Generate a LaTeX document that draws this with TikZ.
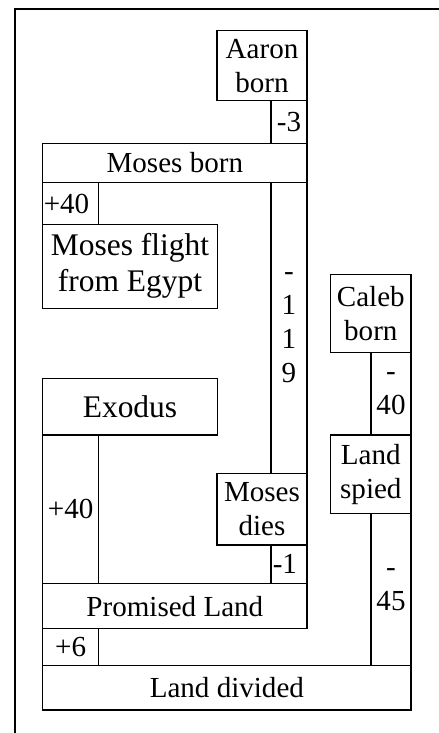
\documentclass[tikz,border=0pt]{standalone}
\usepackage{fontspec}
\setmainfont{Liberation Serif}
\newcommand\bx[7][]{\node[box, minimum width={(#5-#3)*0.75pt}, minimum height={(#6-#4)*0.75pt}, #1] (#2) at ({(#3+#5)/2},{(#4+#6)/2}) {#7};}
\begin{document}
\begin{tikzpicture}[x=0.75pt,y=-0.75pt,
  box/.style={draw, line width=1pt, inner sep=0pt, align=center, font=\fontsize{21.8}{25.5}\selectfont},
  big/.style={font=\fontsize{23.6}{27}\selectfont},
  txt/.style={inner sep=0pt, align=left, font=\fontsize{21.8}{25.5}\selectfont},
  frame/.style={line width=1.3pt}]
\useasboundingbox (0,0) rectangle (439,733);
\coordinate (fr1) at (14.7,740);
\coordinate (fr2) at (14.7,9.3);
\coordinate (fr3) at (445,9.3);
\draw[frame] (fr1) -- (fr2) -- (fr3);
% boxes
\bx{aaron}{217}{30.7}{307}{100.7}{Aaron\\born}
\bx{m3}{271}{100.7}{307}{143.3}{-3}
\bx{mosesborn}{42.7}{143.3}{307}{182.7}{Moses born}
\bx{p40a}{42.7}{182.7}{98.7}{224.3}{}
\node[txt, anchor=west] (p40at) at (43.5,203.5) {+40};
\bx[big]{flight}{42.7}{224.3}{217.3}{308.3}{Moses flight\\from Egypt}
\bx{m119}{271}{182.7}{307}{473.3}{-\\1\\1\\9}
\bx{caleb}{330.7}{274.3}{411}{352.7}{Caleb\\born}
\bx{m40}{371}{352.7}{411}{435}{-\\40}
\bx{spied}{330.7}{435}{411}{513.3}{Land\\spied}
\bx{m45}{371}{513.3}{411}{665.7}{-\\45}
\bx[big]{exodus}{42.7}{378.7}{217.3}{435}{Exodus}
\bx{p40b}{42.7}{435}{98.7}{583.7}{+40}
\bx{dies}{217}{473.3}{307}{545}{Moses\\dies}
\bx{m1}{271}{545}{307}{583.7}{}
\node[txt, anchor=west] (m1t) at (272.5,564.3) {-1};
\bx{promised}{42.7}{583.7}{307}{628.7}{Promised Land}
\bx{p6}{42.7}{628.7}{98.7}{665.7}{+6}
\bx{divided}{42.7}{665.7}{411}{710}{Land divided}
\end{tikzpicture}
\end{document}
